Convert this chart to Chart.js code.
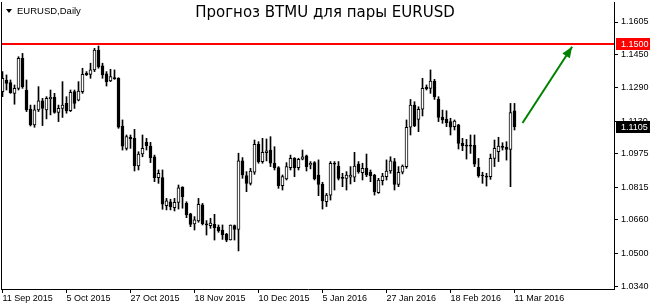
<!DOCTYPE html>
<html>
<head>
<meta charset="utf-8">
<script src="https://cdn.jsdelivr.net/npm/chart.js@4.4.0/dist/chart.umd.min.js"></script>
<style>
html,body{margin:0;padding:0;background:#fff;}
#wrap{position:relative;width:650px;height:308px;overflow:hidden;background:#fff;}
canvas{position:absolute;left:0;top:0;}
#title{position:absolute;left:0;top:4.6px;width:650px;text-align:center;font-family:"DejaVu Sans";font-size:15px;line-height:15px;color:#000;white-space:nowrap;}
#sym{position:absolute;left:17px;top:5.7px;font-family:"Liberation Sans";font-size:9.5px;line-height:10px;color:#000;white-space:nowrap;}
#tri{position:absolute;left:6px;top:9px;width:0;height:0;border-left:3px solid transparent;border-right:3px solid transparent;border-top:4px solid #000;}
</style>
</head>
<body>
<div id="wrap">
<canvas id="c" width="650" height="308"></canvas>
<div id="tri"></div>
<div id="sym">EURUSD,Daily</div>
<div id="title">Прогноз BTMU для пары EURUSD</div>
</div>
<script>
// ---- Data (EURUSD daily, 11 Sep 2015 .. 11 Mar 2016), bar index 0..128 ----
const open = [
1.1272,1.1328,1.1315,1.1264,1.1288,1.1431,1.1280,1.1189,1.1113,1.1185,
1.1228,1.1185,1.1239,1.1245,1.1173,1.1192,1.1216,1.1181,1.1272,1.1232,
1.1272,1.1360,1.1355,1.1376,1.1471,1.1395,1.1357,1.1323,1.1339,1.1336,
1.1108,1.1001,1.1054,1.1049,1.0917,1.0974,1.1030,1.1012,1.0961,1.0861,
1.0861,1.0727,1.0746,1.0718,1.0743,1.0816,1.0738,1.0688,1.0640,1.0654,
1.0731,1.0641,1.0632,1.0638,1.0625,1.0611,1.0590,1.0563,1.0632,1.0614,
1.0941,1.0871,1.0834,1.0887,1.1020,1.0938,1.0981,1.0993,1.0930,1.0909,
1.0823,1.0855,1.0909,1.0954,1.0909,1.0950,1.0965,1.0922,1.0933,1.0874,
1.0829,1.0746,1.0778,1.0930,1.0917,1.0861,1.0858,1.0863,1.0863,1.0926,
1.0885,1.0906,1.0887,1.0874,1.0789,1.0847,1.0866,1.0893,1.0938,1.0829,
1.0887,1.0914,1.1102,1.1208,1.1140,1.1188,1.1293,1.1288,1.1323,1.1235,
1.1149,1.1140,1.1129,1.1105,1.1113,1.1025,1.1016,1.1016,1.1016,1.0910,
1.0874,1.0869,1.0866,1.0953,1.0985,1.1009,1.1006,1.0996,1.1180];
const high = [
1.1368,1.1352,1.1328,1.1304,1.1439,1.1455,1.1328,1.1208,1.1208,1.1296,
1.1240,1.1248,1.1280,1.1264,1.1208,1.1320,1.1248,1.1280,1.1280,1.1320,
1.1384,1.1368,1.1408,1.1479,1.1490,1.1408,1.1368,1.1379,1.1376,1.1339,
1.1137,1.1065,1.1065,1.1092,1.0985,1.1065,1.1049,1.1030,1.0969,1.0898,
1.0898,1.0762,1.0758,1.0762,1.0826,1.0818,1.0746,1.0691,1.0675,1.0762,
1.0738,1.0656,1.0667,1.0686,1.0635,1.0635,1.0595,1.0635,1.0635,1.0978,
1.0957,1.0890,1.0906,1.1041,1.1033,1.1049,1.1046,1.1057,1.1009,1.0914,
1.0874,1.0933,1.0969,1.0957,1.0954,1.0993,1.0969,1.0938,1.0938,1.0946,
1.0839,1.0786,1.0938,1.0938,1.0938,1.0882,1.0890,1.0914,1.0982,1.0938,
1.0930,1.0974,1.0898,1.0877,1.0858,1.0882,1.0946,1.0961,1.0953,1.0914,
1.0922,1.1137,1.1235,1.1224,1.1200,1.1336,1.1304,1.1376,1.1331,1.1248,
1.1184,1.1181,1.1145,1.1137,1.1116,1.1049,1.1044,1.1065,1.1065,1.0953,
1.0887,1.0882,1.0974,1.1041,1.1054,1.1028,1.1033,1.1216,1.1216];
const low = [
1.1248,1.1280,1.1264,1.1212,1.1280,1.1288,1.1177,1.1108,1.1102,1.1177,
1.1110,1.1142,1.1161,1.1169,1.1129,1.1149,1.1169,1.1177,1.1192,1.1228,
1.1264,1.1349,1.1336,1.1368,1.1384,1.1336,1.1299,1.1320,1.1331,1.1097,
1.0993,1.0993,1.1001,1.0893,1.0898,1.0961,1.0993,1.0933,1.0842,1.0834,
1.0710,1.0707,1.0707,1.0702,1.0711,1.0715,1.0670,1.0627,1.0611,1.0648,
1.0635,1.0587,1.0619,1.0563,1.0600,1.0566,1.0555,1.0563,1.0563,1.0511,
1.0858,1.0794,1.0826,1.0877,1.0930,1.0930,1.0941,1.0914,1.0898,1.0810,
1.0802,1.0850,1.0898,1.0866,1.0898,1.0946,1.0893,1.0903,1.0850,1.0775,
1.0711,1.0723,1.0754,1.0802,1.0850,1.0818,1.0802,1.0831,1.0842,1.0882,
1.0850,1.0866,1.0842,1.0778,1.0786,1.0826,1.0850,1.0882,1.0802,1.0818,
1.0879,1.0906,1.1065,1.1105,1.1081,1.1156,1.1280,1.1264,1.1235,1.1129,
1.1121,1.1105,1.1065,1.1089,1.0998,1.0990,1.0950,1.0977,1.0914,1.0863,
1.0834,1.0821,1.0853,1.0914,1.0938,1.0993,1.0945,1.0818,1.1089];
const close = [
1.1336,1.1312,1.1267,1.1288,1.1431,1.1296,1.1185,1.1113,1.1185,1.1228,
1.1192,1.1240,1.1245,1.1173,1.1192,1.1208,1.1180,1.1269,1.1216,1.1275,
1.1355,1.1353,1.1376,1.1471,1.1392,1.1352,1.1320,1.1344,1.1333,1.1102,
1.1012,1.1057,1.1046,1.0917,1.0974,1.1001,1.1014,1.0957,1.0861,1.0882,
1.0735,1.0750,1.0723,1.0743,1.0813,1.0770,1.0683,1.0638,1.0659,1.0734,
1.0641,1.0635,1.0644,1.0622,1.0606,1.0587,1.0562,1.0635,1.0614,1.0941,
1.0874,1.0834,1.0893,1.1020,1.0938,1.0982,1.0989,1.0930,1.0909,1.0823,
1.0866,1.0914,1.0954,1.0909,1.0949,1.0961,1.0914,1.0930,1.0855,1.0829,
1.0750,1.0778,1.0930,1.0925,1.0858,1.0858,1.0874,1.0874,1.0917,1.0890,
1.0906,1.0874,1.0871,1.0794,1.0850,1.0869,1.0893,1.0942,1.0829,1.0887,
1.0917,1.1102,1.1208,1.1108,1.1188,1.1288,1.1286,1.1323,1.1248,1.1149,
1.1137,1.1124,1.1102,1.1132,1.1025,1.1014,1.1012,1.1012,1.0926,1.0871,
1.0869,1.0863,1.0953,1.1001,1.1012,1.1006,1.0996,1.1172,1.1105];

const xTickIdx    = [0, 16, 32, 48, 64, 80, 96, 112, 128];
const xTickLabels = ["11 Sep 2015","5 Oct 2015","27 Oct 2015","18 Nov 2015","10 Dec 2015","5 Jan 2016","27 Jan 2016","18 Feb 2016","11 Mar 2016"];
const yTickVals   = [1.1605, 1.1450, 1.1290, 1.1130, 1.0975, 1.0815, 1.0660, 1.0500, 1.0340];

const levelPrice = 1.1500;          // horizontal red level
const arrowX = [130, 142.4];        // forecast arrow (bar index)
const arrowY = [1.1122, 1.1487];    // forecast arrow (price)

// visible window
const xMin = -0.125, xMax = 152.875;
const yMin = 1.0329, yMax = 1.17006;

// ---- build chart ----
const idx = open.map((_, i) => i);
const isUp = idx.map(i => close[i] >= open[i]);
const FONT = 'Liberation Sans';

const overlay = {
  id: 'overlay',
  afterDatasetsDraw(chart) {
    const xs = chart.scales.x, ys = chart.scales.y, ctx = chart.ctx;
    const x0 = xs.getPixelForValue(arrowX[0]), y0 = ys.getPixelForValue(arrowY[0]);
    const x1 = xs.getPixelForValue(arrowX[1]), y1 = ys.getPixelForValue(arrowY[1]);
    const dx = x1 - x0, dy = y1 - y0, len = Math.hypot(dx, dy);
    const ux = dx / len, uy = dy / len, nx = -uy, ny = ux;
    const hl = 11, hw = 4.5;
    ctx.save();
    ctx.fillStyle = '#008000';
    ctx.beginPath();
    ctx.moveTo(x1, y1);
    ctx.lineTo(x1 - ux * hl + nx * hw, y1 - uy * hl + ny * hw);
    ctx.lineTo(x1 - ux * hl - nx * hw, y1 - uy * hl - ny * hw);
    ctx.closePath();
    ctx.fill();
    ctx.restore();
  },
  afterDraw(chart) {
    const ys = chart.scales.y, ctx = chart.ctx, a = chart.chartArea;
    ctx.save();
    // left frame line
    ctx.fillStyle = '#000';
    ctx.fillRect(a.left - 1, a.top, 1, a.bottom - a.top + 1);
    // price boxes on the scale
    const box = (v, bg) => {
      const py = Math.round(ys.getPixelForValue(v));
      ctx.fillStyle = bg;
      ctx.fillRect(a.right + 2, py - 6, 40, 12);
      ctx.fillStyle = '#fff';
      ctx.font = '9px "' + FONT + '"';
      ctx.textBaseline = 'middle';
      ctx.textAlign = 'left';
      ctx.fillText(v.toFixed(4), a.right + 7, py + 0.5);
    };
    box(levelPrice, '#ff0000');
    box(close[close.length - 1], '#000000');
    ctx.restore();
  }
};

new Chart(document.getElementById('c'), {
  type: 'bar',
  data: {
    datasets: [
      { type: 'line', data: [{x: xMin, y: levelPrice}, {x: xMax, y: levelPrice}],
        borderColor: '#ff0000', borderWidth: 2, pointRadius: 0, order: 0 },
      { type: 'line', data: arrowX.map((x, i) => ({x: x, y: arrowY[i]})),
        borderColor: '#008000', borderWidth: 2, pointRadius: 0, order: 0 },
      { type: 'bar', data: idx.map(i => ({x: i, y: [open[i], close[i]]})),
        backgroundColor: idx.map(i => isUp[i] ? '#ffffff' : '#000000'),
        borderColor: '#000000', borderWidth: 1, borderSkipped: false,
        barThickness: 3, minBarLength: 1, grouped: false, order: 1 },
      { type: 'bar', data: idx.map(i => ({x: i, y: [low[i], high[i]]})),
        backgroundColor: '#000000', borderWidth: 0,
        barThickness: 1, grouped: false, order: 2 }
    ]
  },
  options: {
    responsive: false,
    animation: false,
    devicePixelRatio: 1,
    events: [],
    layout: { padding: { left: 2, top: 2, right: 0, bottom: 0 } },
    plugins: { legend: { display: false }, tooltip: { enabled: false }, title: { display: false } },
    scales: {
      x: {
        type: 'linear', position: 'bottom', min: xMin, max: xMax, offset: false,
        grid: { display: true, drawOnChartArea: false, drawTicks: true, tickLength: 4, color: '#000', offset: false },
        border: { display: true, color: '#000', width: 1 },
        ticks: {
          autoSkip: false, maxRotation: 0, minRotation: 0, align: 'start', padding: 0,
          color: '#000', font: { family: FONT, size: 9 },
          callback: (v) => { const k = xTickIdx.indexOf(v); return k >= 0 ? xTickLabels[k] : ''; }
        },
        afterBuildTicks: (s) => { s.ticks = xTickIdx.map(v => ({ value: v })); },
        afterFit: (s) => { s.height = 19; s.paddingLeft = 0; s.paddingRight = 0; }
      },
      y: {
        type: 'linear', position: 'right', min: yMin, max: yMax,
        grid: { display: true, drawOnChartArea: false, drawTicks: true, tickLength: 4, color: '#000' },
        border: { display: true, color: '#000', width: 1 },
        ticks: {
          autoSkip: false, padding: 3, color: '#000', font: { family: FONT, size: 9 },
          callback: (v) => Number(v).toFixed(4)
        },
        afterBuildTicks: (s) => { s.ticks = yTickVals.map(v => ({ value: v })); },
        afterFit: (s) => { s.width = 36; s.paddingTop = 0; s.paddingBottom = 0; }
      }
    }
  },
  plugins: [overlay]
});
</script>
</body>
</html>
